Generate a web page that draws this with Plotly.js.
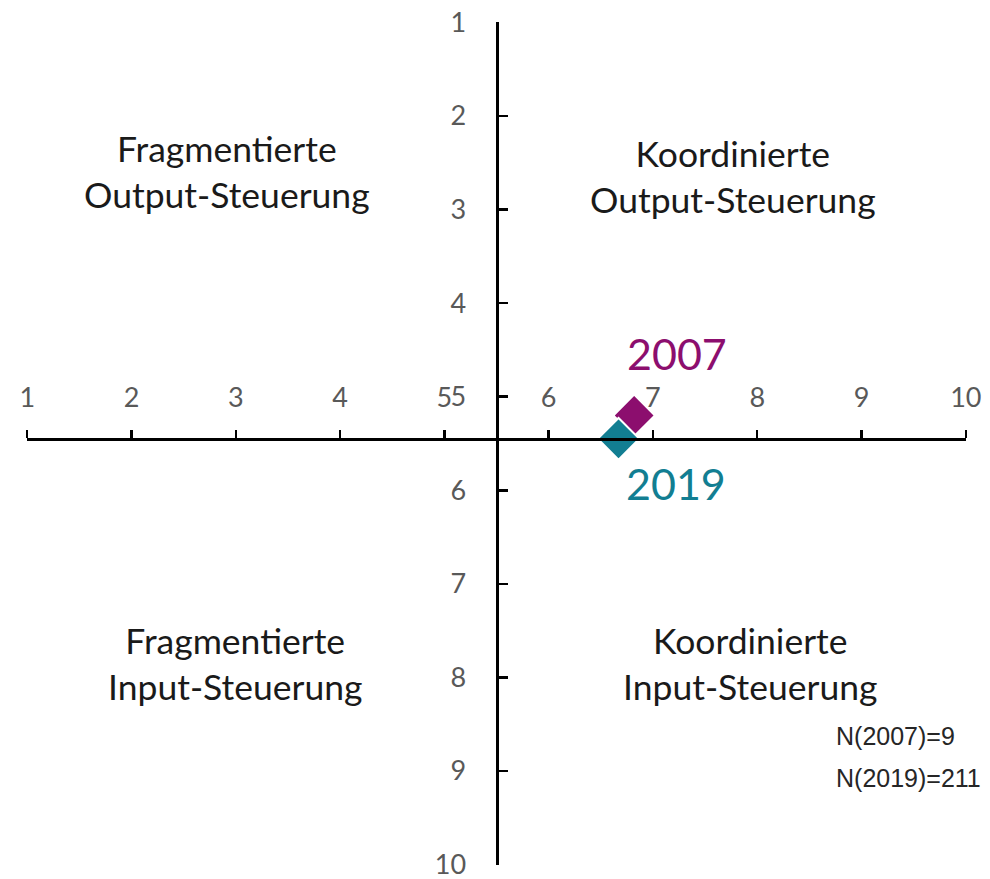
<!DOCTYPE html>
<html>
<head>
<meta charset="utf-8">
<script src="https://cdn.plot.ly/plotly-3.0.1.min.js"></script>
<style>html,body{margin:0;padding:0;background:#fff;}#chart{width:990px;height:879px;}</style>
</head>
<body>
<div id="chart"></div>
<script>
// ---- data ----
const years = ['2007', '2019'];
const xValues = [6.82, 6.67];
const yValues = [5.20, 5.45];
const tickValues = [1, 2, 3, 4, 5, 6, 7, 8, 9, 10];
const quadrantLines = [
  ['Fragmentierte', 'Output-Steuerung'],
  ['Koordinierte', 'Output-Steuerung'],
  ['Fragmentierte', 'Input-Steuerung'],
  ['Koordinierte', 'Input-Steuerung']
];
const nLabels = ['N(2007)=9', 'N(2019)=211'];
const xCross = 5.5;   // where the vertical axis crosses
const yCross = 5.45;  // where the horizontal axis crosses

// ---- styles ----
const seriesColors = ['#8C0E6E', '#127E92'];
const xRange = [0.998, 10.002];
const yRange = [10.004, 0.996];

const traces = years.map((yr, i) => ({
  type: 'scatter', mode: 'markers', name: yr,
  x: [xValues[i]], y: [yValues[i]],
  marker: {symbol: 'diamond', size: 32, color: seriesColors[i], line: {color: '#ffffff', width: 2}},
  cliponaxis: false, hoverinfo: 'skip'
}));

const annotations = [];
const quadPos = [[2.92, 2.59], [7.77, 2.65], [2.99, 7.85], [7.93, 7.85]];
quadrantLines.forEach((lines, i) => {
  annotations.push({
    x: quadPos[i][0], y: quadPos[i][1], xref: 'x', yref: 'y',
    text: lines.join('<br>'), showarrow: false, xanchor: 'center', yanchor: 'middle',
    font: {family: 'Lato, "Open Sans", sans-serif', size: 35.5, color: '#1a1a1a'}
  });
});
const yearLabelPos = [[7.23, 4.54], [7.22, 5.93]];
years.forEach((yr, i) => {
  annotations.push({
    x: yearLabelPos[i][0], y: yearLabelPos[i][1], xref: 'x', yref: 'y',
    text: yr, showarrow: false, xanchor: 'center', yanchor: 'middle',
    font: {family: 'Lato, "Open Sans", sans-serif', size: 43, color: seriesColors[i]}
  });
});
const nPos = [8.63, 9.07];
nLabels.forEach((t, i) => {
  annotations.push({
    x: 8.74, y: nPos[i], xref: 'x', yref: 'y',
    text: t, showarrow: false, xanchor: 'left', yanchor: 'middle',
    font: {family: '"Liberation Sans", Arial, sans-serif', size: 25, color: '#262626'}
  });
});

const layout = {
  width: 990, height: 879,
  margin: {l: 27, r: 24, t: 22, b: 14, pad: 0},
  paper_bgcolor: '#ffffff', plot_bgcolor: '#ffffff',
  showlegend: false,
  font: {family: 'Lato, "Open Sans", sans-serif', color: '#595959'},
  xaxis: {
    range: xRange, anchor: 'free',
    position: (yRange[0] - yCross) / (yRange[0] - yRange[1]),
    side: 'top', showgrid: false, zeroline: false,
    showline: true, linecolor: '#000000', linewidth: 3,
    ticks: 'outside', ticklen: 8, tickwidth: 2.5, tickcolor: '#000000',
    tickmode: 'array', tickvals: tickValues, ticktext: tickValues.map(String),
    ticklabelstandoff: 12, ticklabeloverflow: 'allow',
    tickfont: {family: 'Lato, "Open Sans", sans-serif', size: 27, color: '#595959'},
    fixedrange: true
  },
  yaxis: {
    range: yRange, anchor: 'free',
    position: (xCross - xRange[0]) / (xRange[1] - xRange[0]),
    side: 'left', showgrid: false, zeroline: false,
    showline: true, linecolor: '#000000', linewidth: 3,
    ticks: 'inside', ticklen: 9, tickwidth: 2.5, tickcolor: '#000000',
    tickmode: 'array', tickvals: tickValues, ticktext: tickValues.map(String),
    ticklabelstandoff: 24, ticklabeloverflow: 'allow',
    tickfont: {family: 'Lato, "Open Sans", sans-serif', size: 27, color: '#595959'},
    fixedrange: true
  },
  annotations: annotations
};

Plotly.newPlot('chart', traces, layout, {displayModeBar: false, staticPlot: true});
</script>
</body>
</html>
